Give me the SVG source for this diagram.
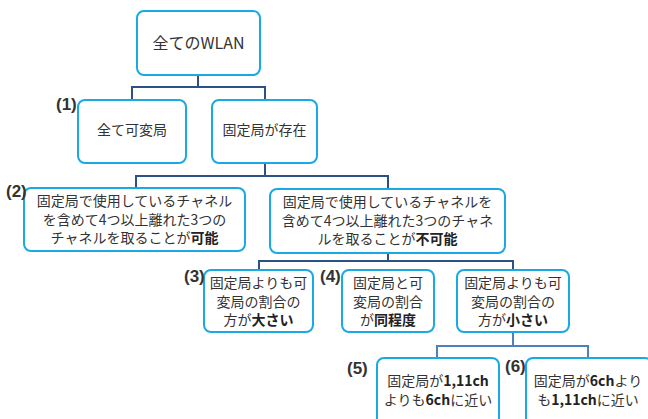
<svg xmlns="http://www.w3.org/2000/svg" width="648" height="419" viewBox="0 0 648 419">
<style>
.box{fill:#fff;stroke:#19a9e3;stroke-width:2}
.t{font-family:"Noto Sans CJK JP","Noto Sans",sans-serif;font-size:14px;fill:#333;text-anchor:middle}
.b{font-weight:bold;fill:#222}
.lbl{font-family:"Liberation Sans","Noto Sans",sans-serif;font-size:17px;font-weight:bold;fill:#333}
.c{fill:none;stroke:#2b5185;stroke-width:2}
.c2{fill:none;stroke:#4f80bb;stroke-width:2}
</style>
<rect width="648" height="419" fill="#fff"/>
<g id="connectors">
<path class="c" d="M198 75V87M132 100V87H265V100"/>
<path class="c" d="M265 163V176M136 188V176H388V189"/>
<path class="c" d="M388 253V261M259 270V261H513V270"/>
<path class="c2" d="M513 332V346M437 358V346H588V358"/>
</g>
<g id="n0">
<rect class="box" x="137" y="11" width="123" height="64" rx="7"/>
<text class="t" x="198.5" y="49" style="font-size:16px">全てのWLAN</text>
</g>
<g id="n1">
<rect class="box" x="78" y="100" width="108" height="63" rx="7"/>
<text class="t" x="132" y="135">全て可変局</text>
<text class="lbl" x="56" y="110">(1)</text>
</g>
<g id="n1b">
<rect class="box" x="212" y="100" width="105" height="63" rx="7"/>
<text class="t" x="264.5" y="135">固定局が存在</text>
</g>
<g id="n2">
<rect class="box" x="24" y="188" width="221" height="63" rx="7"/>
<text class="t" x="134.5" y="206">固定局で使用しているチャネル</text>
<text class="t" x="134.5" y="224.5">を含めて4つ以上離れた3つの</text>
<text class="t" x="134.5" y="243">チャネルを取ることが<tspan class="b">可能</tspan></text>
<text class="lbl" x="6" y="197">(2)</text>
</g>
<g id="n2b">
<rect class="box" x="270" y="189" width="235" height="64" rx="7"/>
<text class="t" x="387.5" y="207">固定局で使用しているチャネルを</text>
<text class="t" x="387.5" y="225.5">含めて4つ以上離れた3つのチャネ</text>
<text class="t" x="387.5" y="244">ルを取ることが<tspan class="b">不可能</tspan></text>
</g>
<g id="n3">
<rect class="box" x="204" y="270" width="109" height="62" rx="7"/>
<text class="t" x="258.5" y="288">固定局よりも可</text>
<text class="t" x="258.5" y="306.5">変局の割合の</text>
<text class="t" x="258.5" y="325">方が<tspan class="b">大さい</tspan></text>
<text class="lbl" x="184" y="282">(3)</text>
</g>
<g id="n4">
<rect class="box" x="342" y="270" width="92" height="62" rx="7"/>
<text class="t" x="388" y="288">固定局と可</text>
<text class="t" x="388" y="306.5">変局の割合</text>
<text class="t" x="388" y="325">が<tspan class="b">同程度</tspan></text>
<text class="lbl" x="320" y="282">(4)</text>
</g>
<g id="n4b">
<rect class="box" x="457" y="270" width="112" height="62" rx="7"/>
<text class="t" x="513" y="288">固定局よりも可</text>
<text class="t" x="513" y="306.5">変局の割合の</text>
<text class="t" x="513" y="325">方が<tspan class="b">小さい</tspan></text>
</g>
<g id="n5">
<rect class="box" x="377" y="358" width="122" height="80" rx="7"/>
<text class="t" x="438" y="386">固定局が<tspan class="b">1,11ch</tspan></text>
<text class="t" x="438" y="404.5">よりも<tspan class="b">6ch</tspan>に近い</text>
<text class="lbl" x="347" y="374">(5)</text>
</g>
<g id="n6">
<rect class="box" x="526" y="358" width="126" height="80" rx="7"/>
<text class="t" x="588" y="386">固定局が<tspan class="b">6ch</tspan>より</text>
<text class="t" x="588" y="404.5">も<tspan class="b">1,11ch</tspan>に近い</text>
<text class="lbl" x="505" y="372">(6)</text>
</g>
</svg>
